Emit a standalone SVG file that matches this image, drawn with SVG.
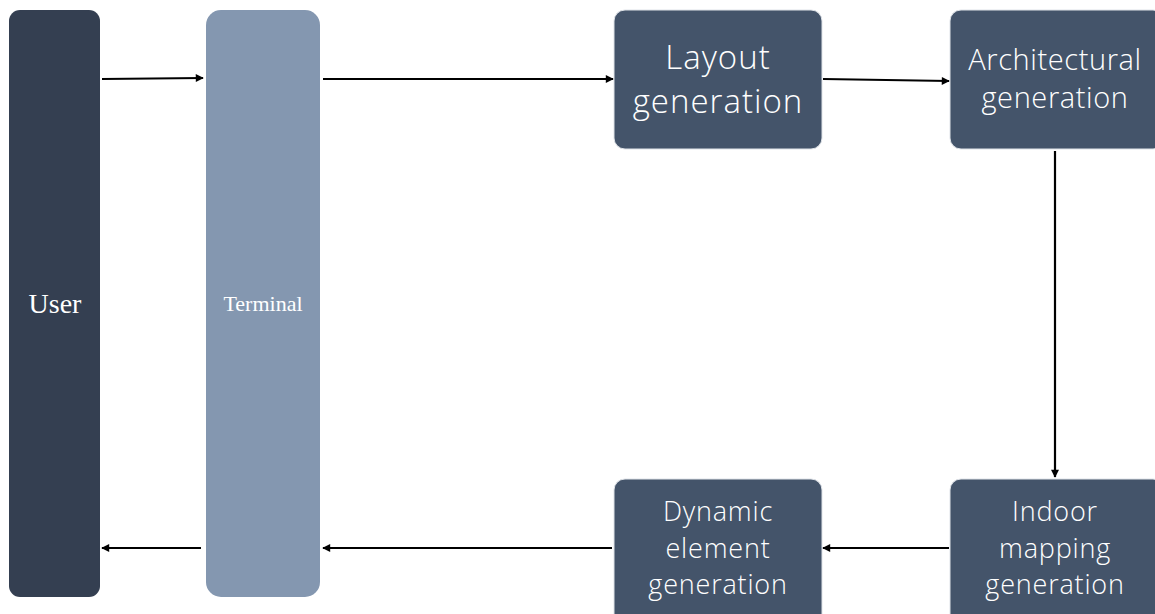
<svg xmlns="http://www.w3.org/2000/svg" width="1155" height="614" viewBox="0 0 1155 614">
<style>
.box{fill:#44546A;stroke:#dfe3e8;stroke-width:1}
.lbl{font-family:"Open Sans","Noto Sans",sans-serif;font-weight:300;fill:#ffffff;text-anchor:middle}
.ser{font-family:"Liberation Serif",serif;fill:#ffffff;text-anchor:middle}
.con{stroke:#000;stroke-width:2.2;fill:none;marker-end:url(#ah)}
</style>
<defs>
<marker id="ah" viewBox="0 0 10 10" refX="9" refY="5" markerWidth="9" markerHeight="8" orient="auto" markerUnits="userSpaceOnUse" overflow="visible">
<path d="M0,0 L10,5 L0,10 z" fill="#000"/>
</marker>
</defs>
<rect width="1155" height="614" fill="#fff"/>
<g id="user">
<rect x="9" y="10" width="91" height="587" rx="11" fill="#343F51"/>
<text class="ser" x="55" y="313" font-size="28">User</text>
</g>
<g id="terminal">
<rect x="206" y="10" width="114" height="587" rx="15" fill="#8497B0"/>
<text class="ser" x="263" y="311" font-size="22">Terminal</text>
</g>
<g id="layout">
<rect class="box" x="614" y="10" width="208" height="139" rx="11"/>
<text class="lbl" x="718" y="69" font-size="33" letter-spacing="1">Layout</text>
<text class="lbl" x="718" y="113" font-size="33" letter-spacing="1">generation</text>
</g>
<g id="architectural">
<rect class="box" x="950" y="10" width="214" height="139" rx="11"/>
<text class="lbl" x="1055" y="70" font-size="29" letter-spacing="0.6">Architectural</text>
<text class="lbl" x="1055" y="108" font-size="29" letter-spacing="0.6">generation</text>
</g>
<g id="indoor">
<rect class="box" x="950" y="479" width="214" height="150" rx="11"/>
<text class="lbl" x="1055" y="521" font-size="27" letter-spacing="0.8">Indoor</text>
<text class="lbl" x="1055" y="558" font-size="27" letter-spacing="0.8">mapping</text>
<text class="lbl" x="1055" y="594" font-size="27" letter-spacing="0.8">generation</text>
</g>
<g id="dynamic">
<rect class="box" x="614" y="479" width="208" height="150" rx="11"/>
<text class="lbl" x="718" y="521" font-size="27" letter-spacing="0.8">Dynamic</text>
<text class="lbl" x="718" y="558" font-size="27" letter-spacing="0.8">element</text>
<text class="lbl" x="718" y="594" font-size="27" letter-spacing="0.8">generation</text>
</g>
<g id="connectors">
<line class="con" x1="102" y1="79" x2="203" y2="78"/>
<line class="con" x1="323" y1="79" x2="613" y2="79"/>
<line class="con" x1="823" y1="79" x2="949" y2="81"/>
<line class="con" x1="1055" y1="151" x2="1055" y2="477"/>
<line class="con" x1="949" y1="548" x2="823" y2="548"/>
<line class="con" x1="612" y1="548" x2="323" y2="548"/>
<line class="con" x1="201" y1="548" x2="102" y2="548"/>
</g>
</svg>
